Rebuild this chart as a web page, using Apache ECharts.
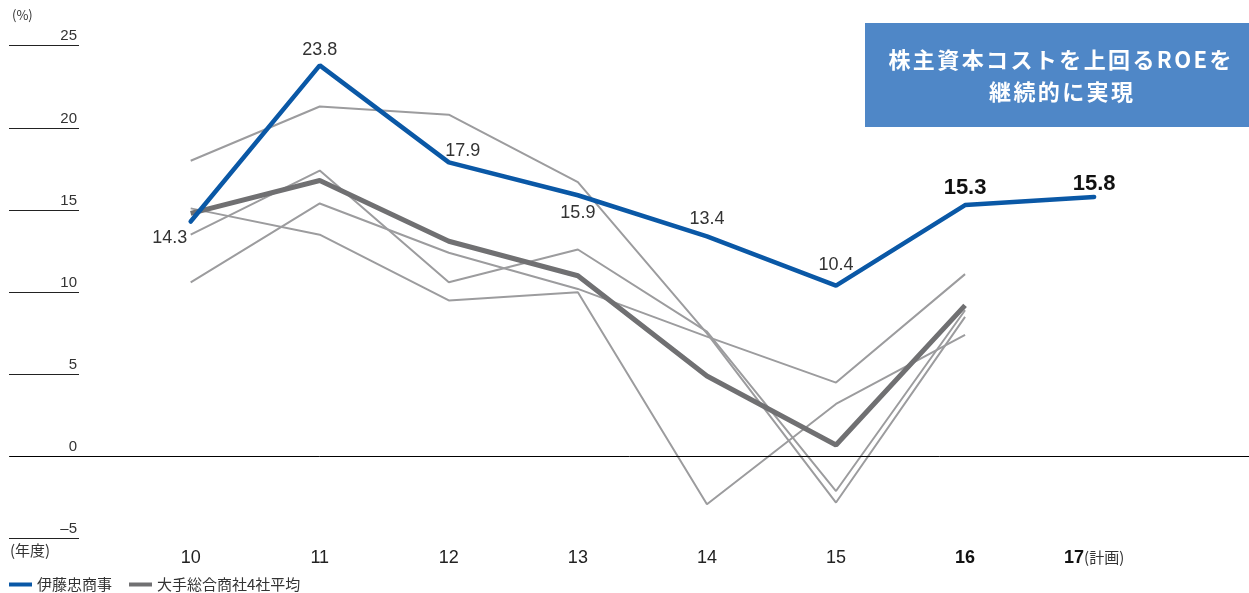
<!DOCTYPE html>
<html>
<head>
<meta charset="utf-8">
<script src="https://cdn.jsdelivr.net/npm/echarts@6/dist/echarts.min.js"></script>
<style>
  html, body { margin: 0; padding: 0; background: #fff; }
  #chart { width: 1249px; height: 593px; }
</style>
</head>
<body>
<div id="chart"></div>
<script>
'use strict';

// 年度 (x) と目盛
var years = [10, 11, 12, 13, 14, 15, 16, 17];
var yTicks = [-5, 0, 5, 10, 15, 20, 25];

// ROE (%)
var itochu = [14.3, 23.8, 17.9, 15.9, 13.4, 10.4, 15.3, 15.8];
var average = [14.8, 16.8, 13.1, 11.0, 4.9, 0.7, 9.2];
var companyA = [18.0, 21.3, 20.8, 16.7, 7.5, -2.8, 8.5];
var companyB = [15.1, 13.5, 9.5, 10.0, -2.9, 3.2, 7.4];
var companyC = [13.5, 17.4, 10.6, 12.6, 7.6, -2.1, 8.9];
var companyD = [10.6, 15.4, 12.4, 10.2, 7.3, 4.5, 11.1];

var FONT = '"Liberation Sans", "Noto Sans CJK JP", sans-serif';
var JP = '"Noto Sans CJK JP", "Liberation Sans", sans-serif';

function pairs(vals) {
  return vals.map(function (v, i) { return [years[i], v]; });
}

// 伊藤忠のラベル位置 (style only)
var blueLabel = [
  { position: 'left', distance: 3, offset: [0, 16] },
  { position: 'top', distance: 6 },
  { position: 'top', distance: 2, offset: [14, 0] },
  { position: 'bottom', distance: 8 },
  { position: 'top', distance: 8 },
  { position: 'top', distance: 11 },
  { position: 'top', distance: 6, bold: true },
  { position: 'top', distance: 1, bold: true }
];

var blueData = itochu.map(function (v, i) {
  var l = blueLabel[i];
  return {
    value: [years[i], v],
    label: {
      show: true,
      position: l.position,
      distance: l.distance,
      offset: l.offset || [0, 0],
      fontSize: l.bold ? 22 : 18,
      fontWeight: l.bold ? 'bold' : 'normal',
      color: l.bold ? '#111' : '#333',
      fontFamily: FONT,
      formatter: v.toFixed(1)
    }
  };
});

// 文字間を少し空ける
function spaced(str) {
  return str.split('').map(function (ch) { return '{c|' + ch + '}'; }).join('');
}

function grayLine(vals, extra) {
  var s = {
    type: 'line',
    xAxisIndex: 0,
    yAxisIndex: 0,
    data: pairs(vals),
    symbol: 'none',
    silent: true,
    z: 2,
    lineStyle: { color: '#9c9c9e', width: 2 }
  };
  return Object.assign(s, extra || {});
}

var chart = echarts.init(document.getElementById('chart'));

var boxRich = {
  c: { fontSize: 22, fontWeight: 'bold', fill: '#fff', fontFamily: JP, padding: [0, 1.2] }
};

var option = {
  animation: false,
  grid: [
    { left: 10, right: 0, top: 45.7, bottom: 54.3 },
    { left: 9, width: 70, top: 45.7, bottom: 54.3 }
  ],
  xAxis: [{
    type: 'value',
    gridIndex: 0,
    min: 8.6,
    max: 18.2,
    axisLine: { show: false },
    axisTick: { show: false },
    splitLine: { show: false },
    axisLabel: {
      customValues: years,
      margin: 10,
      formatter: function (v) {
        if (v === 16) { return '{b|16}'; }
        if (v === 17) { return '{b|17}{s|(計画)}'; }
        return '{n|' + v + '}';
      },
      rich: {
        n: { fontSize: 18, color: '#222', fontFamily: FONT },
        b: { fontSize: 18, color: '#111', fontWeight: 'bold', fontFamily: FONT },
        s: { fontSize: 15, color: '#333', fontFamily: JP }
      }
    }
  }, {
    type: 'value',
    gridIndex: 1,
    show: false
  }],
  yAxis: [{
    type: 'value',
    gridIndex: 0,
    min: -5,
    max: 25,
    show: false
  }, {
    type: 'value',
    gridIndex: 1,
    position: 'right',
    min: yTicks[0],
    max: yTicks[yTicks.length - 1],
    interval: 5,
    axisLine: { show: false },
    axisTick: { show: false },
    splitLine: { show: true, lineStyle: { color: '#222', width: 1 } },
    axisLabel: {
      inside: true,
      margin: 2,
      verticalAlign: 'bottom',
      padding: [0, 0, 2, 0],
      fontSize: 15,
      color: '#333',
      fontFamily: FONT,
      showMinLabel: true,
      showMaxLabel: true,
      formatter: function (v) { return v < 0 ? '–' + Math.abs(v) : String(v); }
    }
  }],
  legend: {
    left: 9,
    top: 577,
    padding: 0,
    icon: 'rect',
    itemWidth: 23,
    itemHeight: 4,
    itemGap: 17,
    data: ['伊藤忠商事', '大手総合商社4社平均'],
    textStyle: { fontSize: 15, color: '#333', fontFamily: JP }
  },
  graphic: [
    { type: 'text', left: 12, top: 9, style: { text: '(%)', fontSize: 13, fill: '#333', fontFamily: JP } },
    { type: 'text', left: 10, top: 543, style: { text: '(年度)', fontSize: 15, fill: '#333', fontFamily: JP } },
    {
      type: 'group',
      left: 865,
      top: 23,
      children: [
        { type: 'rect', shape: { x: 0, y: 0, width: 384, height: 104 }, style: { fill: '#4f87c7' } },
        {
          type: 'text', x: 195, y: 37,
          style: { text: spaced('株主資本コストを上回るROEを'), rich: boxRich, fill: '#fff', align: 'center', verticalAlign: 'middle' }
        },
        {
          type: 'text', x: 196, y: 69,
          style: { text: spaced('継続的に実現'), rich: boxRich, fill: '#fff', align: 'center', verticalAlign: 'middle' }
        }
      ]
    }
  ],
  series: [
    grayLine(companyA, {
      markLine: {
        silent: true,
        symbol: ['none', 'none'],
        label: { show: false },
        lineStyle: { color: '#000', width: 1, type: 'solid' },
        data: [{ yAxis: 0 }]
      }
    }),
    grayLine(companyB),
    grayLine(companyC),
    grayLine(companyD),
    {
      name: '大手総合商社4社平均',
      type: 'line',
      data: pairs(average),
      symbol: 'none',
      z: 3,
      itemStyle: { color: '#707072' },
      lineStyle: { color: '#707072', width: 5 }
    },
    {
      name: '伊藤忠商事',
      type: 'line',
      data: blueData,
      symbol: 'circle',
      symbolSize: 1,
      showSymbol: true,
      z: 4,
      itemStyle: { color: '#0a58a6' },
      lineStyle: { color: '#0a58a6', width: 4.5, cap: 'round' }
    }
  ]
};

chart.setOption(option);
</script>
</body>
</html>
